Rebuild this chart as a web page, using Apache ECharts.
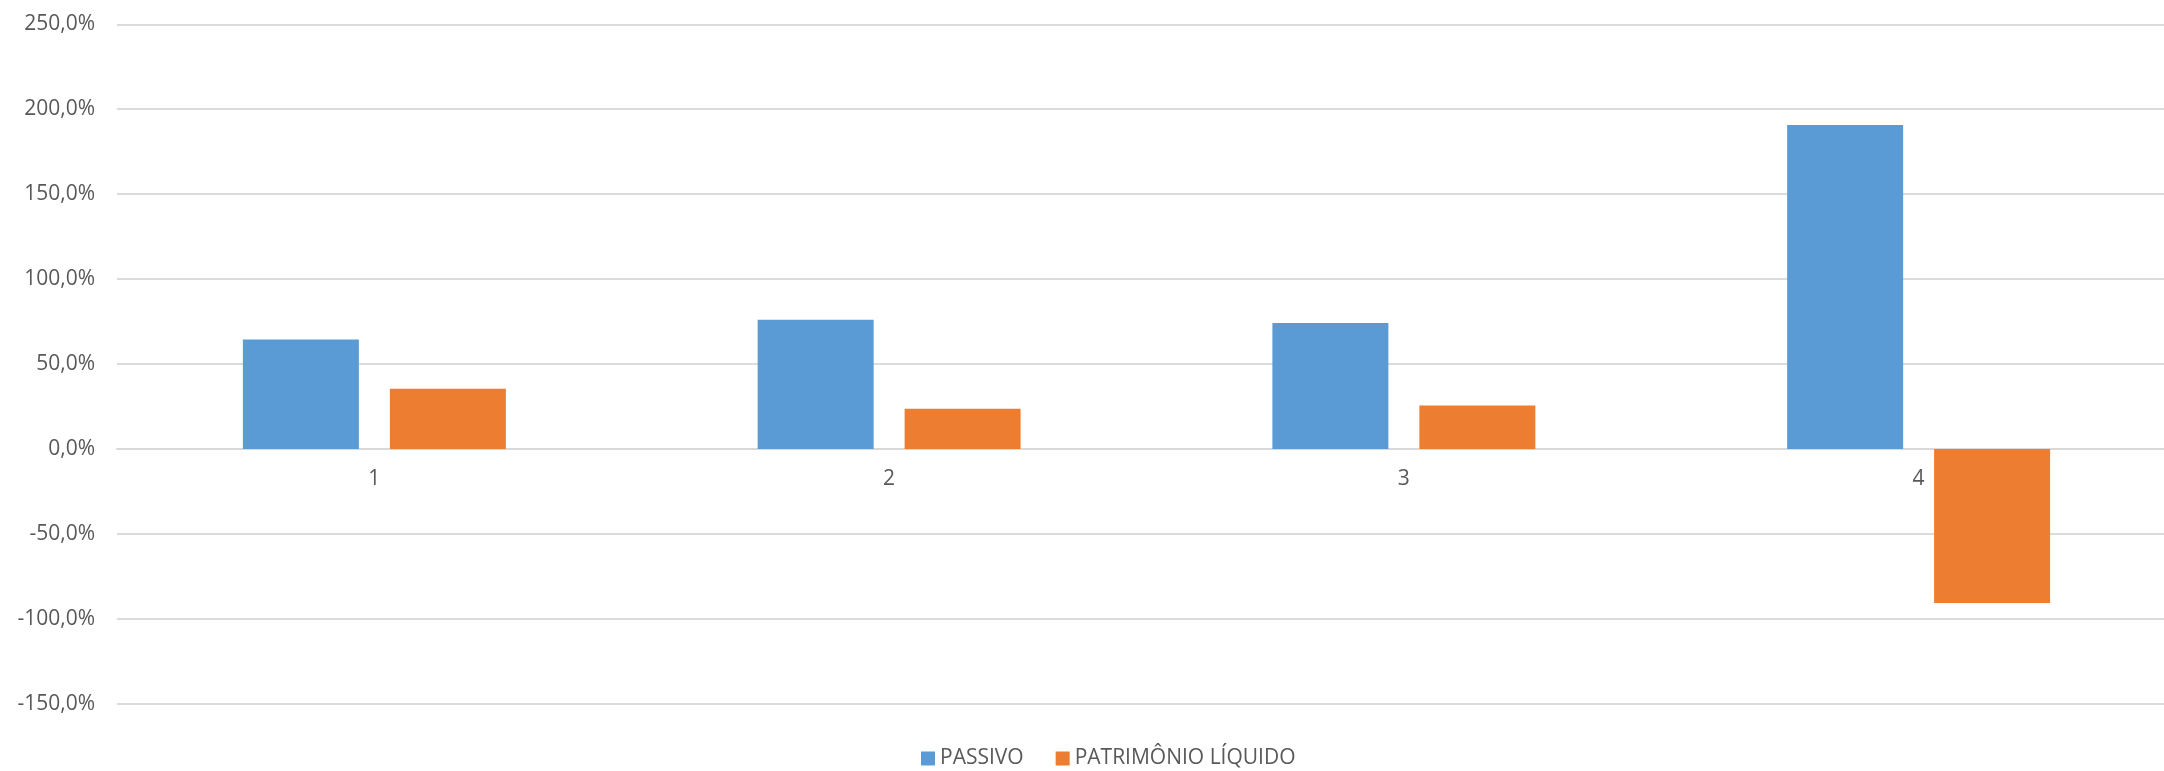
<!DOCTYPE html>
<html>
<head>
<meta charset="utf-8">
<script src="https://cdn.jsdelivr.net/npm/echarts@6/dist/echarts.min.js"></script>
<style>
html,body{margin:0;padding:0;background:#fff;overflow:hidden;width:2164px;height:771px;}
#chart{width:2176px;height:771px;}
</style>
</head>
<body>
<div id="chart"></div>
<script>
const categories = ['1', '2', '3', '4'];
const passivo = [64.4, 76.0, 74.1, 190.7];
const patrimonio = [35.5, 23.6, 25.6, -90.7];
const seriesNames = ['PASSIVO', 'PATRIMÔNIO LÍQUIDO'];
const yMin = -150, yMax = 250, yStep = 50;

const fmt = v => v.toFixed(1).replace('.', ',') + '%';
const FONT = '"Open Sans", "Noto Sans", sans-serif';

const gridTop = 24.3, gridBottom = 67.3;
const plotH = 771 - gridTop - gridBottom;
// distance from bottom edge of plot to the zero line
const zeroOffset = plotH * (0 - yMin) / (yMax - yMin);

const chart = echarts.init(document.getElementById('chart'));
chart.setOption({
  animation: false,
  color: ['#5B9BD5', '#ED7D31'],
  grid: { left: 117, right: 0, top: gridTop, bottom: gridBottom, containLabel: false },
  legend: {
    data: seriesNames,
    left: 916,
    top: 743,
    itemWidth: 14,
    itemHeight: 14,
    itemGap: 32,
    icon: 'rect',
    textStyle: { fontFamily: FONT, fontSize: 21, color: '#595959' }
  },
  xAxis: {
    type: 'category',
    data: categories,
    position: 'bottom',
    offset: -zeroOffset,
    axisTick: { show: false },
    axisLine: { onZero: false, lineStyle: { color: '#D9D9D9', width: 2 } },
    axisLabel: { fontFamily: FONT, fontSize: 21, color: '#595959', margin: 20 }
  },
  yAxis: {
    type: 'value',
    min: yMin, max: yMax, interval: yStep,
    axisLine: { show: false },
    axisTick: { show: false },
    splitLine: { lineStyle: { color: '#DCDCDC', width: 2 } },
    axisLabel: { fontFamily: FONT, fontSize: 21, color: '#595959', margin: 22, formatter: fmt }
  },
  series: [
    { name: seriesNames[0], type: 'bar', data: passivo, barWidth: 116, barGap: '26.7%' },
    { name: seriesNames[1], type: 'bar', data: patrimonio, barWidth: 116, barGap: '26.7%' }
  ]
});
</script>
</body>
</html>
